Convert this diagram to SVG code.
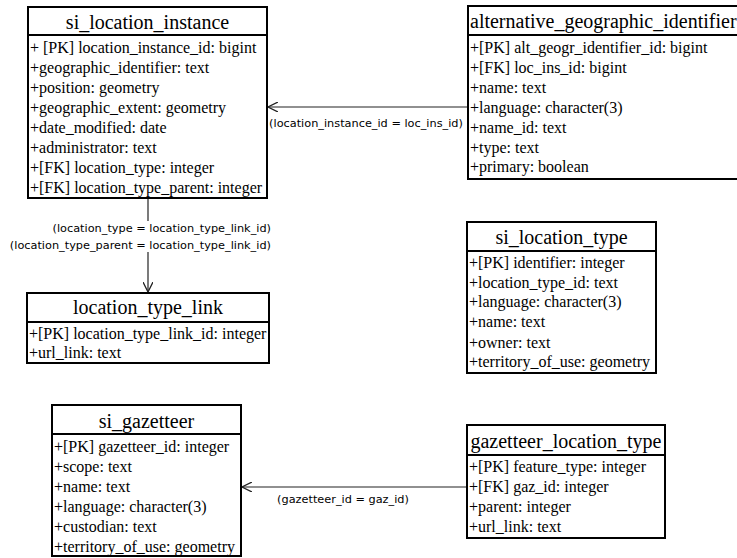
<svg xmlns="http://www.w3.org/2000/svg" width="737" height="558" viewBox="0 0 737 558">
<style>
.box{fill:#fff;stroke:#000;stroke-width:2}
.sep{stroke:#000;stroke-width:2}
.node text{font-family:"Liberation Serif","Times New Roman",serif;fill:#000}
.title{font-size:20px;text-anchor:middle}
.row{font-size:16px}
.lbl{font-family:"DejaVu Sans",sans-serif;font-size:11.3px;fill:#000}
.conn{fill:none;stroke:#222;stroke-width:1.2}
</style>
<defs>
<marker id="open" viewBox="0 0 10 10" refX="10" refY="5" markerWidth="10" markerHeight="10" markerUnits="userSpaceOnUse" orient="auto">
<path d="M0,0 L10,5 L0,10" fill="none" stroke="#222" stroke-width="1.3"/>
</marker>
</defs>
<rect width="737" height="558" fill="#fff"/>

<g id="connectors">
<path class="conn" d="M468,107 H268" marker-end="url(#open)"/>
<text class="lbl" x="366" y="127" text-anchor="middle">(location_instance_id = loc_ins_id)</text>
<path class="conn" d="M148,199 V292" marker-end="url(#open)"/>
<rect x="8" y="221" width="264" height="31" fill="#fff"/>
<text class="lbl" x="271" y="232" text-anchor="end">(location_type = location_type_link_id)</text>
<text class="lbl" x="271" y="249" text-anchor="end">(location_type_parent = location_type_link_id)</text>
<path class="conn" d="M467,487 H242" marker-end="url(#open)"/>
<text class="lbl" x="343" y="503" text-anchor="middle">(gazetteer_id = gaz_id)</text>
</g>

<g id="si_location_instance" class="node">
<rect class="box" x="28" y="7" width="239" height="191"/>
<line class="sep" x1="28" y1="35" x2="267" y2="35"/>
<text class="title" x="147.5" y="29">si_location_instance</text>
<text class="row" x="30" y="53">+ [PK] location_instance_id: bigint</text>
<text class="row" x="30" y="73">+geographic_identifier: text</text>
<text class="row" x="30" y="93">+position: geometry</text>
<text class="row" x="30" y="113">+geographic_extent: geometry</text>
<text class="row" x="30" y="133">+date_modified: date</text>
<text class="row" x="30" y="153">+administrator: text</text>
<text class="row" x="30" y="173">+[FK] location_type: integer</text>
<text class="row" x="30" y="193">+[FK] location_type_parent: integer</text>
</g>

<g id="alternative_geographic_identifier" class="node">
<rect class="box" x="468" y="6" width="280" height="173"/>
<line class="sep" x1="468" y1="35" x2="748" y2="35"/>
<text class="title" x="470" y="28" style="text-anchor:start">alternative_geographic_identifier</text>
<text class="row" x="470" y="53">+[PK] alt_geogr_identifier_id: bigint</text>
<text class="row" x="470" y="73">+[FK] loc_ins_id: bigint</text>
<text class="row" x="470" y="93">+name: text</text>
<text class="row" x="470" y="113">+language: character(3)</text>
<text class="row" x="470" y="133">+name_id: text</text>
<text class="row" x="470" y="153">+type: text</text>
<text class="row" x="470" y="172">+primary: boolean</text>
</g>

<g id="location_type_link" class="node">
<rect class="box" x="27" y="293" width="242" height="70"/>
<line class="sep" x1="27" y1="322" x2="269" y2="322"/>
<text class="title" x="148" y="314">location_type_link</text>
<text class="row" x="29" y="339">+[PK] location_type_link_id: integer</text>
<text class="row" x="29" y="358">+url_link: text</text>
</g>

<g id="si_location_type" class="node">
<rect class="box" x="467" y="222" width="189" height="151"/>
<line class="sep" x1="467" y1="251" x2="656" y2="251"/>
<text class="title" x="561.5" y="244">si_location_type</text>
<text class="row" x="469" y="268">+[PK] identifier: integer</text>
<text class="row" x="469" y="288">+location_type_id: text</text>
<text class="row" x="469" y="307">+language: character(3)</text>
<text class="row" x="469" y="327">+name: text</text>
<text class="row" x="469" y="348">+owner: text</text>
<text class="row" x="469" y="367">+territory_of_use: geometry</text>
</g>

<g id="si_gazetteer" class="node">
<rect class="box" x="52" y="405" width="189" height="151"/>
<line class="sep" x1="52" y1="434" x2="241" y2="434"/>
<text class="title" x="146.5" y="428">si_gazetteer</text>
<text class="row" x="54" y="452">+[PK] gazetteer_id: integer</text>
<text class="row" x="54" y="472">+scope: text</text>
<text class="row" x="54" y="492">+name: text</text>
<text class="row" x="54" y="512">+language: character(3)</text>
<text class="row" x="54" y="532">+custodian: text</text>
<text class="row" x="54" y="552">+territory_of_use: geometry</text>
</g>

<g id="gazetteer_location_type" class="node">
<rect class="box" x="467" y="425" width="198" height="113"/>
<line class="sep" x1="467" y1="455" x2="665" y2="455"/>
<text class="title" x="566" y="448">gazetteer_location_type</text>
<text class="row" x="469" y="472">+[PK] feature_type: integer</text>
<text class="row" x="469" y="492">+[FK] gaz_id: integer</text>
<text class="row" x="469" y="512">+parent: integer</text>
<text class="row" x="469" y="532">+url_link: text</text>
</g>
</svg>
